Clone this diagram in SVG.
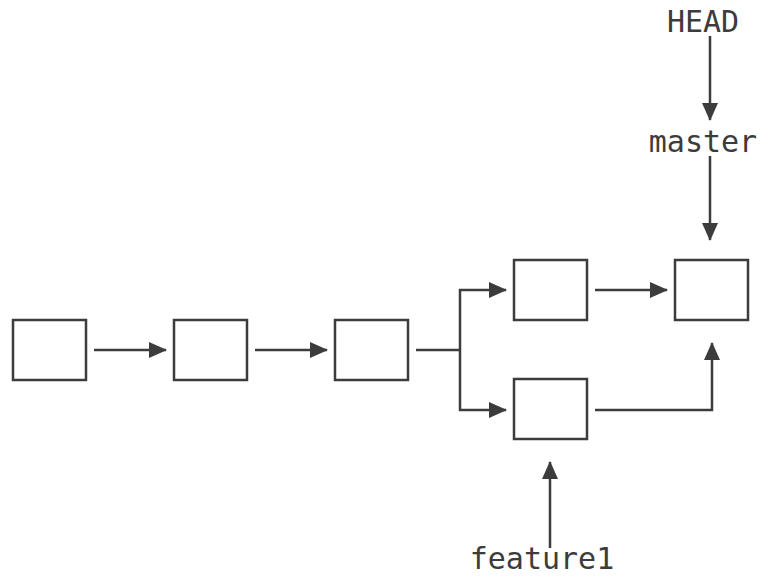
<svg xmlns="http://www.w3.org/2000/svg" width="770" height="580" viewBox="0 0 770 580">
<defs>
<marker id="ah" viewBox="0 0 18 16" refX="17" refY="8" markerWidth="18" markerHeight="16" markerUnits="userSpaceOnUse" orient="auto">
<path d="M0,0 L18,8 L0,16 Z" fill="#3c3c3c"/>
</marker>
<style>
.box{fill:#fff;stroke:#3c3c3c;stroke-width:2.5}
.ln{fill:none;stroke:#3c3c3c;stroke-width:2.5;marker-end:url(#ah)}
.ln2{fill:none;stroke:#3c3c3c;stroke-width:2.5}
.lbl{font-family:"DejaVu Sans Mono","Liberation Mono",monospace;font-size:30px;fill:#3c3c3c;text-anchor:middle}
</style>
</defs>
<rect width="770" height="580" fill="#fff"/>
<g id="connectors">
<path class="ln" d="M94,350 H166"/>
<path class="ln" d="M255,350 H327"/>
<path class="ln2" d="M416,350 H460"/>
<path class="ln" d="M460,350 V290 H506"/>
<path class="ln" d="M460,350 V410 H506"/>
<path class="ln" d="M595,290 H667"/>
<path class="ln" d="M595,410 H712 V343"/>
<path class="ln" d="M550,548 V462"/>
<path class="ln" d="M710,36 V120"/>
<path class="ln" d="M710,156 V240"/>
</g>
<g id="c1"><rect class="box" x="13" y="320" width="73" height="60"/></g>
<g id="c2"><rect class="box" x="174" y="320" width="73" height="60"/></g>
<g id="c3"><rect class="box" x="335" y="320" width="73" height="60"/></g>
<g id="c4"><rect class="box" x="514" y="260" width="73" height="60"/></g>
<g id="c5"><rect class="box" x="675" y="260" width="73" height="60"/></g>
<g id="c6"><rect class="box" x="514" y="379" width="73" height="60"/></g>
<g id="head"><text class="lbl" x="703" y="32">HEAD</text></g>
<g id="master"><text class="lbl" x="703" y="152">master</text></g>
<g id="feature1"><text class="lbl" x="542" y="569">feature1</text></g>
</svg>
